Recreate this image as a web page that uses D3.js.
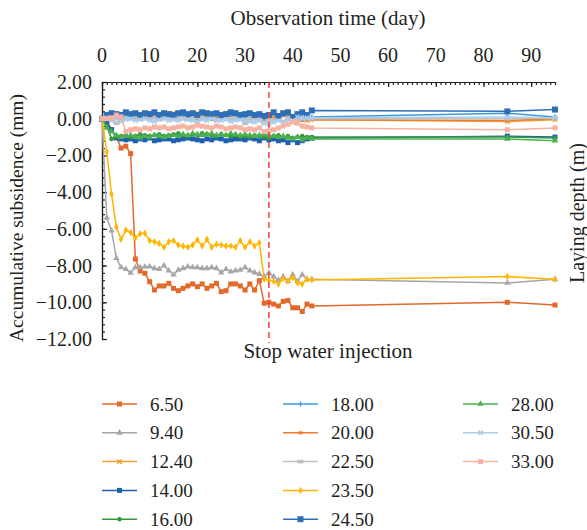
<!DOCTYPE html>
<html lang="en">
<head>
<meta charset="UTF-8">
<script src="https://d3js.org/d3.v7.min.js"></script>
<title>subsidence</title>
<style>
  body { margin: 0; background: #fff; }
  text { font-family: "Liberation Serif", "DejaVu Serif", serif; fill: #231f20; }
</style>
</head>
<body>
<svg id="chart" width="587" height="530"></svg>
<script>
// observation days
const days = [0,1,2,3,4,5,6,7,8,9,10,11,12,13,14,15,16,17,18,19,20,21,22,23,24,25,26,27,28,29,30,31,32,33,34,35,36,37,38,39,40,41,42,43,44,85,95];

// accumulative subsidence (mm) per laying depth
const s650 = [0,-0.1,-0.6,-1.0,-1.6,-1.5,-1.9,-7.64,-8.3,-8.42,-8.88,-9.33,-9.11,-9.11,-8.97,-9.24,-9.37,-9.24,-9.11,-9.0,-9.15,-9.0,-9.24,-9.11,-8.97,-9.42,-9.37,-9.0,-9.0,-9.11,-9.33,-9.0,-9.33,-8.82,-10.05,-10.0,-10.1,-10.2,-9.95,-9.9,-10.3,-10.3,-10.5,-10.1,-10.2,-10.0,-10.15];
const s940 = [0,-5.4,-6.1,-7.6,-8.1,-8.2,-8.4,-8.1,-8.1,-8.06,-8.06,-8.15,-8.2,-8.0,-8.28,-8.5,-8.24,-8.15,-8.06,-8.1,-8.1,-8.15,-8.15,-8.1,-8.15,-8.38,-8.2,-8.33,-8.28,-8.24,-8.1,-8.28,-8.38,-8.46,-8.6,-8.4,-8.6,-8.8,-8.6,-8.85,-8.5,-8.85,-8.5,-8.75,-8.75,-8.95,-8.75];
const s1240 = [0,0.2,0.3,0.1,0.25,0.3,0.2,0.1,0.25,0.15,0.3,0.2,0.1,0.25,0.2,0.3,0.15,0.2,0.25,0.1,0.3,0.2,0.15,0.25,0.1,0.2,0.3,0.15,0.25,0.1,0.2,0.15,0.05,0.1,-0.05,0.0,0.15,0.05,0.2,0.1,-0.2,0.15,0.0,-0.1,-0.05,-0.15,-0.05];
const s1400 = [0,-0.2,-0.6,-1.05,-1.1,-1.15,-1.1,-1.2,-1.1,-1.15,-1.05,-1.2,-1.15,-1.1,-1.1,-1.2,-1.15,-1.1,-1.05,-1.1,-1.15,-1.2,-1.1,-1.15,-1.05,-1.1,-1.2,-1.15,-1.1,-1.1,-1.15,-1.05,-1.1,-1.2,-1.05,-1.15,-1.1,-1.2,-1.15,-1.3,-1.15,-1.3,-1.2,-1.1,-1.05,-0.95,-1.0];
const s1600 = [0,-0.4,-1.1,-1.0,-0.95,-0.9,-1.0,-0.95,-0.85,-0.9,-0.95,-0.9,-0.85,-0.95,-0.9,-0.85,-0.8,-0.9,-0.95,-0.85,-0.9,-0.8,-0.85,-0.9,-0.95,-0.85,-0.9,-0.95,-0.9,-1.0,-0.95,-1.0,-0.9,-0.95,-1.0,-1.05,-0.95,-0.9,-1.0,-0.95,-1.05,-1.0,-0.95,-1.0,-1.0,-1.0,-1.05];
const s1800 = [0,0.1,0.2,0.15,0.1,0.2,0.15,0.25,0.1,0.2,0.15,0.1,0.2,0.15,0.25,0.1,0.15,0.2,0.1,0.15,0.2,0.25,0.15,0.1,0.2,0.15,0.1,0.2,0.15,0.25,0.1,0.15,0.2,0.1,0.05,0.2,0.3,0.1,0.2,0.3,0.1,0.2,0.1,0.15,0.1,0.3,0.1];
const s2000 = [0,-0.05,0.05,0.0,-0.1,0.05,0.1,0.0,-0.05,0.05,0.0,0.1,-0.05,0.05,0.1,0.0,-0.05,0.05,0.0,0.1,-0.1,0.0,0.05,-0.05,0.05,0.0,0.1,-0.05,0.0,0.05,-0.1,-0.05,0.0,-0.1,-0.15,-0.1,0.0,-0.05,-0.15,0.0,-0.1,0.05,-0.1,-0.05,-0.05,-0.1,0.0];
const s2250 = [0,0.1,0.05,-0.25,0.1,0.05,0.0,0.1,0.05,0.0,0.1,0.05,0.1,0.0,0.05,0.1,0.05,0.0,-0.05,0.05,0.1,0.05,0.0,0.05,-0.1,0.05,0.1,0.0,0.05,0.1,-0.25,0.05,0.0,-0.05,-0.2,-0.1,-0.05,0.0,-0.15,-0.05,0.0,-0.1,0.05,0.0,0.0,0.0,0.05];
const s2350 = [0,-1.8,-4.1,-5.9,-6.57,-6.06,-6.2,-6.5,-6.27,-6.24,-6.64,-6.7,-6.8,-7.0,-6.7,-6.64,-6.88,-6.93,-7.0,-6.88,-6.6,-6.93,-6.57,-7.0,-6.84,-6.88,-6.93,-6.93,-7.0,-6.64,-7.0,-6.7,-6.93,-6.75,-8.75,-8.8,-8.85,-9.0,-8.7,-8.85,-8.65,-8.95,-9.0,-8.75,-8.78,-8.6,-8.75];
const s2450 = [0,0.2,0.3,0.25,0.2,0.35,0.25,0.3,0.2,0.3,0.25,0.35,0.2,0.3,0.25,0.2,0.3,0.35,0.25,0.3,0.2,0.35,0.3,0.25,0.3,0.2,0.25,0.35,0.3,0.2,0.25,0.3,0.2,0.25,0.15,0.2,0.35,0.15,0.3,0.35,0.1,0.25,0.35,0.2,0.45,0.4,0.5];
const s2800 = [0,-0.5,-0.7,-0.9,-1.0,-0.95,-0.9,-1.0,-1.05,-0.95,-1.0,-0.9,-0.95,-1.0,-0.95,-0.9,-0.95,-0.85,-0.9,-0.8,-0.85,-0.9,-0.85,-0.8,-0.9,-0.85,-0.9,-0.8,-0.85,-0.9,-0.85,-0.9,-0.95,-0.9,-0.85,-0.9,-0.95,-1.0,-0.95,-1.05,-1.1,-1.0,-1.15,-1.05,-1.1,-1.1,-1.2];
const s3050 = [0,0.05,-0.1,0.0,-0.15,-0.05,0.0,-0.1,-0.05,0.0,-0.1,-0.15,-0.05,0.0,-0.1,-0.05,-0.1,0.0,-0.05,-0.1,-0.15,-0.05,-0.1,0.0,-0.05,-0.1,-0.05,-0.15,-0.1,-0.05,-0.1,-0.15,-0.2,-0.1,-0.25,-0.3,-0.2,-0.1,-0.25,0.0,-0.1,0.1,0.0,0.05,0.05,0.1,0.05];
const s3300 = [0,0.0,0.05,0.2,0.1,-0.7,-0.6,-0.55,-0.6,-0.5,-0.55,-0.45,-0.5,-0.45,-0.55,-0.5,-0.45,-0.4,-0.5,-0.45,-0.35,-0.4,-0.45,-0.5,-0.4,-0.45,-0.55,-0.5,-0.45,-0.5,-0.6,-0.55,-0.6,-0.5,-0.7,-0.65,-0.6,-0.5,-0.4,-0.3,-0.15,-0.25,-0.4,-0.45,-0.5,-0.6,-0.5];

const depthLabels = ["6.50","9.40","12.40","14.00","16.00","18.00","20.00","22.50","23.50","24.50","28.00","30.50","33.00"];
const seriesValues = [s650,s940,s1240,s1400,s1600,s1800,s2000,s2250,s2350,s2450,s2800,s3050,s3300];
const colors = ["#e3692a","#a6a6a6","#eea02c","#1f5faf","#35993a","#3a9ad9","#f07a30","#c0c0c0","#ffb600","#2f6fb8","#4cb050","#a9cdec","#f6b2a3"];
const markers = ["square","triangle","x","square","circle","plus","dash","bar","diamond","bigsquare","triangle","x","square"];

const xTicks = [0,10,20,30,40,50,60,70,80,90];
const yTicks = [2,0,-2,-4,-6,-8,-10,-12];
const stopDay = 35;

const svg = d3.select("#chart");
const x = d3.scaleLinear().domain([0, 95]).range([102, 555]);
const y = d3.scaleLinear().domain([-12, 2]).range([339, 82]);
const fmt = d3.format(".2f");

// top axis
const topAxis = svg.append("g").attr("transform", "translate(0," + y(2) + ")")
	.call(d3.axisTop(x).tickValues(d3.range(0, 96, 1)).tickSizeInner(-3).tickSizeOuter(0).tickFormat(""));
topAxis.append("g").call(d3.axisTop(x).tickValues(xTicks).tickSizeInner(-5).tickSizeOuter(0).tickFormat(""));
topAxis.selectAll("path, line").attr("stroke", "#231f20").attr("stroke-width", 1.2);

svg.append("g").selectAll("text").data(xTicks).join("text")
	.attr("x", d => x(d)).attr("y", 62)
	.attr("text-anchor", "middle").attr("font-size", "20px")
	.text(d => d);

// left axis
const leftAxis = svg.append("g").attr("transform", "translate(" + x(0) + ",0)")
	.call(d3.axisLeft(y).tickValues(d3.range(-12, 2.01, 0.4)).tickSizeInner(-3).tickSizeOuter(0).tickFormat(""));
leftAxis.append("g").call(d3.axisLeft(y).tickValues(yTicks).tickSizeInner(-5).tickSizeOuter(0).tickFormat(""));
leftAxis.selectAll("path, line").attr("stroke", "#231f20").attr("stroke-width", 1.2);

svg.append("g").selectAll("text").data(yTicks).join("text")
	.attr("x", 92).attr("y", d => y(d) + 7)
	.attr("text-anchor", "end").attr("font-size", "20px")
	.text(d => fmt(d));

// titles
svg.append("text").attr("x", 328).attr("y", 25).attr("text-anchor", "middle")
	.attr("font-size", "21px").text("Observation time (day)");
svg.append("text").attr("transform", "translate(23,218) rotate(-90)").attr("text-anchor", "middle")
	.attr("font-size", "19.5px").text("Accumulative subsidence (mm)");
svg.append("text").attr("transform", "translate(584,213) rotate(-90)").attr("text-anchor", "middle")
	.attr("font-size", "20px").text("Laying depth (m)");

// markers
function drawMarker(g, kind, color, cx, cy) {
	if (kind === "square") {
		g.append("rect").attr("x", cx - 2.5).attr("y", cy - 2.5).attr("width", 5).attr("height", 5).attr("fill", color);
	} else if (kind === "bigsquare") {
		g.append("rect").attr("x", cx - 3).attr("y", cy - 3).attr("width", 6).attr("height", 6).attr("fill", color);
	} else if (kind === "triangle") {
		g.append("path").attr("transform", "translate(" + cx + "," + cy + ")")
			.attr("d", d3.symbol(d3.symbolTriangle, 18)()).attr("fill", color);
	} else if (kind === "circle") {
		g.append("circle").attr("cx", cx).attr("cy", cy).attr("r", 2.3).attr("fill", color);
	} else if (kind === "diamond") {
		g.append("path").attr("transform", "translate(" + cx + "," + cy + ")")
			.attr("d", d3.symbol(d3.symbolDiamond, 16)()).attr("fill", color);
	} else if (kind === "x") {
		g.append("path").attr("transform", "translate(" + cx + "," + cy + ")")
			.attr("d", d3.symbol(d3.symbolTimes, 14)()).attr("stroke", color).attr("stroke-width", 1.5).attr("fill", "none");
	} else if (kind === "plus") {
		g.append("line").attr("x1", cx).attr("x2", cx).attr("y1", cy - 2.5).attr("y2", cy + 2.5)
			.attr("stroke", color).attr("stroke-width", 1.3);
	} else if (kind === "dash") {
		g.append("rect").attr("x", cx - 2).attr("y", cy - 1.5).attr("width", 4).attr("height", 3).attr("fill", color);
	} else if (kind === "bar") {
		g.append("rect").attr("x", cx - 3).attr("y", cy - 1.8).attr("width", 6).attr("height", 3.6).attr("fill", color);
	}
}

// series
const line = d3.line().x(d => x(d[0])).y(d => y(d[1]));
const plot = svg.append("g");
seriesValues.forEach((vals, i) => {
	const pts = days.map((d, j) => [d, vals[j]]);
	const g = plot.append("g");
	g.append("path").datum(pts).attr("d", line)
		.attr("fill", "none").attr("stroke", colors[i]).attr("stroke-width", 1.5)
		.attr("stroke-linejoin", "round");
	pts.forEach(p => drawMarker(g, markers[i], colors[i], x(p[0]), y(p[1])));
});

// stop water injection line
svg.append("line").attr("x1", x(stopDay)).attr("x2", x(stopDay)).attr("y1", y(2)).attr("y2", 343)
	.attr("stroke", "#ff3b3b").attr("stroke-width", 1.5).attr("stroke-dasharray", "6,4");
svg.append("text").attr("x", 328).attr("y", 358).attr("text-anchor", "middle")
	.attr("font-size", "21px").text("Stop water injection");

// legend
const legend = svg.append("g");
const colX = [102, 283, 463];
depthLabels.forEach((lab, i) => {
	const col = Math.floor(i / 5), row = i % 5;
	const lx = colX[col], ly = 404 + row * 28.8;
	const g = legend.append("g");
	g.append("line").attr("x1", lx).attr("x2", lx + 35).attr("y1", ly).attr("y2", ly)
		.attr("stroke", colors[i]).attr("stroke-width", 1.5);
	drawMarker(g, markers[i], colors[i], lx + 17.5, ly);
	g.append("text").attr("x", lx + 48).attr("y", ly + 6.5).attr("font-size", "19px").text(lab);
});
</script>
</body>
</html>
